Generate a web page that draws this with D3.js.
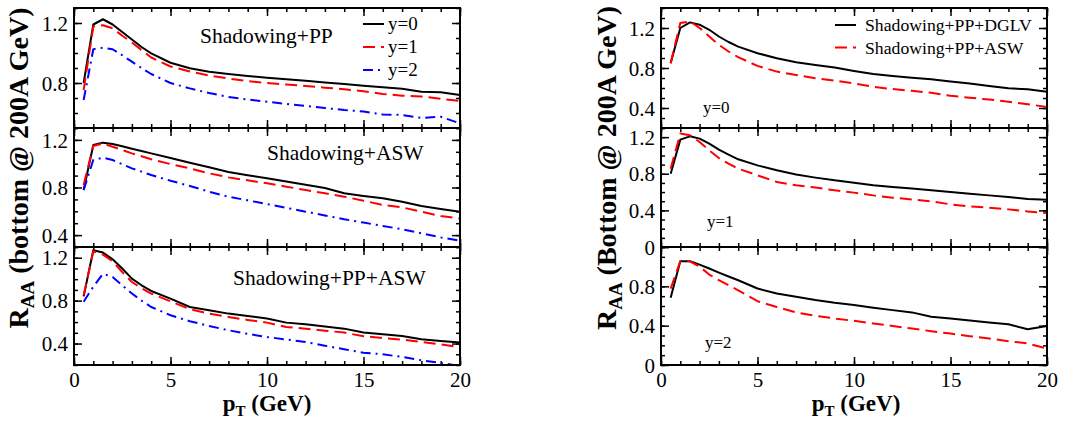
<!DOCTYPE html>
<html><head><meta charset="utf-8">
<script src="https://cdn.jsdelivr.net/npm/d3@7"></script>
<style>
body{margin:0;background:#fff}
svg{display:block}
text{font-family:"Liberation Serif","Times New Roman",serif;fill:#000}
</style>
</head><body>
<svg id="c" width="1078" height="421"></svg>
<script>
// ---------------- data ----------------
const pT = [0.5,1,1.5,2,2.5,3,3.5,4,5,6,7,8,9,10,11,12,13,14,15,16,17,18,19,20];
const xTickValues = [0,5,10,15,20];

// Left column: Shadowing+PP
const ppY0 = [0.80,1.19,1.225,1.19,1.14,1.09,1.04,0.998,0.935,0.898,0.875,0.86,0.847,0.835,0.825,0.815,0.804,0.793,0.782,0.771,0.762,0.742,0.738,0.72];
const ppY1 = [0.753,1.176,1.185,1.165,1.115,1.07,1.02,0.97,0.91,0.877,0.85,0.83,0.813,0.80,0.79,0.78,0.769,0.758,0.745,0.727,0.715,0.71,0.695,0.68];
const ppY2 = [0.687,1.025,1.035,1.025,0.985,0.942,0.9,0.86,0.8,0.764,0.733,0.707,0.69,0.675,0.66,0.647,0.633,0.62,0.61,0.59,0.587,0.567,0.575,0.531];
// Left column: Shadowing+ASW
const aswY0 = [0.779,1.157,1.177,1.166,1.146,1.126,1.107,1.087,1.048,1.008,0.97,0.93,0.903,0.877,0.85,0.823,0.796,0.751,0.729,0.709,0.681,0.645,0.62,0.597];
const aswY1 = [0.821,1.149,1.17,1.143,1.115,1.087,1.062,1.037,0.997,0.961,0.919,0.885,0.86,0.835,0.807,0.779,0.751,0.723,0.689,0.653,0.633,0.597,0.56,0.541];
const aswY2 = [0.779,1.031,1.05,1.031,0.996,0.961,0.933,0.905,0.857,0.813,0.765,0.723,0.692,0.661,0.629,0.597,0.565,0.533,0.505,0.477,0.449,0.415,0.381,0.353];
// Left column: Shadowing+PP+ASW
const ppaswY0 = [0.84,1.27,1.248,1.185,1.1,1.005,0.943,0.89,0.819,0.741,0.71,0.679,0.657,0.633,0.595,0.58,0.56,0.539,0.502,0.486,0.47,0.44,0.424,0.409];
const ppaswY1 = [0.85,1.26,1.229,1.167,1.067,0.974,0.915,0.866,0.794,0.72,0.679,0.648,0.62,0.595,0.554,0.539,0.52,0.502,0.468,0.452,0.437,0.415,0.393,0.366];
const ppaswY2 = [0.79,0.93,1.05,1.02,0.943,0.866,0.8,0.741,0.664,0.608,0.564,0.524,0.49,0.461,0.438,0.415,0.38,0.346,0.315,0.3,0.275,0.244,0.219,0.19];
// Right column: DGLV vs ASW at y=0,1,2
const dglvY0 = [0.848,1.2,1.256,1.233,1.182,1.115,1.06,1.014,0.948,0.898,0.858,0.831,0.804,0.77,0.74,0.72,0.703,0.687,0.666,0.646,0.62,0.597,0.587,0.563];
const aswRY0 = [0.848,1.25,1.266,1.2,1.115,1.032,0.965,0.908,0.821,0.764,0.73,0.697,0.673,0.646,0.612,0.589,0.572,0.552,0.522,0.502,0.485,0.462,0.438,0.41];
const dglvY1 = [0.8,1.173,1.209,1.184,1.13,1.064,1.009,0.958,0.892,0.838,0.791,0.758,0.728,0.703,0.674,0.655,0.638,0.619,0.601,0.583,0.564,0.546,0.524,0.517];
const aswRY1 = [0.856,1.239,1.22,1.147,1.056,0.972,0.91,0.856,0.783,0.71,0.674,0.649,0.619,0.594,0.564,0.539,0.52,0.499,0.466,0.444,0.43,0.411,0.389,0.371];
const dglvY2 = [0.683,1.055,1.055,1.021,0.981,0.94,0.9,0.862,0.778,0.727,0.693,0.66,0.632,0.609,0.582,0.558,0.535,0.49,0.473,0.452,0.432,0.415,0.364,0.398];
const aswRY2 = [0.777,1.055,1.055,1.0,0.92,0.862,0.81,0.76,0.649,0.59,0.535,0.5,0.473,0.449,0.422,0.397,0.371,0.344,0.32,0.293,0.27,0.242,0.219,0.168];

const leftLegend = ["y=0","y=1","y=2"];
const rightLegend = ["Shadowing+PP+DGLV","Shadowing+PP+ASW"];
const leftTitles = ["Shadowing+PP","Shadowing+ASW","Shadowing+PP+ASW"];
const rightTitles = ["y=0","y=1","y=2"];

// ---------------- styles ----------------
const S = {
  black:{color:"#000",dash:null},
  red:{color:"#ff0000",dash:"12,6"},
  blue:{color:"#0000ff",dash:"10,5,2,5"}
};

const svg = d3.select("#c");
let clipId = 0;

function panel(cfg){
  const x = d3.scaleLinear().domain([0,20]).range([cfg.x0,cfg.x1]);
  const y = d3.scaleLinear().domain(cfg.domain).range([cfg.y1,cfg.y0]);
  const g = svg.append("g");
  const id = "clip"+(clipId++);
  svg.append("clipPath").attr("id",id).append("rect")
    .attr("x",cfg.x0).attr("y",cfg.y0).attr("width",cfg.x1-cfg.x0).attr("height",cfg.y1-cfg.y0);

  const majorY = d3.range(0,1.41,0.4).map(v=>+v.toFixed(1)).filter(v=>v>=cfg.domain[0]-1e-9&&v<=cfg.domain[1]+1e-9);
  const minorY = d3.range(0,1.41,0.1).map(v=>+v.toFixed(1)).filter(v=>v>=cfg.domain[0]-1e-9&&v<=cfg.domain[1]+1e-9);
  const minorX = d3.range(0,21,1);

  const styleAxis = a => { a.select(".domain").remove(); a.selectAll("line").attr("stroke","#000").attr("stroke-width",1.5); };

  // minor ticks
  g.append("g").attr("transform",`translate(${cfg.x0},0)`).call(d3.axisLeft(y).tickValues(minorY).tickSize(-4).tickFormat("")).call(styleAxis);
  g.append("g").attr("transform",`translate(${cfg.x1},0)`).call(d3.axisRight(y).tickValues(minorY).tickSize(-4).tickFormat("")).call(styleAxis);
  g.append("g").attr("transform",`translate(0,${cfg.y0})`).call(d3.axisTop(x).tickValues(minorX).tickSize(-4).tickFormat("")).call(styleAxis);
  g.append("g").attr("transform",`translate(0,${cfg.y1})`).call(d3.axisBottom(x).tickValues(minorX).tickSize(-4).tickFormat("")).call(styleAxis);
  // major ticks
  const yl = g.append("g").attr("transform",`translate(${cfg.x0},0)`)
    .call(d3.axisLeft(y).tickValues(majorY).tickSize(-8).tickPadding(6)
      .tickFormat(v => cfg.yLabels.includes(v) ? (v===0?"0":d3.format(".1f")(v)) : ""))
    .call(styleAxis);
  yl.selectAll("text").attr("font-size",21).attr("dy","0.34em");
  g.append("g").attr("transform",`translate(${cfg.x1},0)`).call(d3.axisRight(y).tickValues(majorY).tickSize(-8).tickFormat("")).call(styleAxis);
  g.append("g").attr("transform",`translate(0,${cfg.y0})`).call(d3.axisTop(x).tickValues(xTickValues).tickSize(-8).tickFormat("")).call(styleAxis);
  const xb = g.append("g").attr("transform",`translate(0,${cfg.y1})`)
    .call(d3.axisBottom(x).tickValues(xTickValues).tickSize(-8).tickPadding(7).tickFormat(cfg.showX? d3.format("d") : ""))
    .call(styleAxis);
  xb.selectAll("text").attr("font-size",21);

  // series
  const line = d3.line().x((d,i)=>x(pT[i])).y(d=>y(d));
  cfg.series.forEach(s=>{
    g.append("path").datum(s.values).attr("clip-path",`url(#${id})`)
      .attr("d",line).attr("fill","none").attr("stroke",s.style.color)
      .attr("stroke-width",2).attr("stroke-dasharray",s.style.dash).attr("stroke-linejoin","round");
  });
  // frame
  g.append("rect").attr("x",cfg.x0).attr("y",cfg.y0).attr("width",cfg.x1-cfg.x0).attr("height",cfg.y1-cfg.y0)
    .attr("fill","none").attr("stroke","#000").attr("stroke-width",2);
  return {x,y,g};
}

// Left column
const LX0=74, LX1=460, RX0=661, RX1=1047;
const rows = [[8,128],[128,247],[247,365]];
panel({x0:LX0,x1:LX1,y0:rows[0][0],y1:rows[0][1],domain:[0.5,1.3],yLabels:[0.8,1.2],showX:false,
  series:[{values:ppY0,style:S.black},{values:ppY1,style:S.red},{values:ppY2,style:S.blue}]});
panel({x0:LX0,x1:LX1,y0:rows[1][0],y1:rows[1][1],domain:[0.3,1.3],yLabels:[0.4,0.8,1.2],showX:false,
  series:[{values:aswY0,style:S.black},{values:aswY1,style:S.red},{values:aswY2,style:S.blue}]});
panel({x0:LX0,x1:LX1,y0:rows[2][0],y1:rows[2][1],domain:[0.2,1.3],yLabels:[0.4,0.8,1.2],showX:true,
  series:[{values:ppaswY0,style:S.black},{values:ppaswY1,style:S.red},{values:ppaswY2,style:S.blue}]});
// Right column
panel({x0:RX0,x1:RX1,y0:rows[0][0],y1:rows[0][1],domain:[0.2,1.4],yLabels:[0.4,0.8,1.2],showX:false,
  series:[{values:dglvY0,style:S.black},{values:aswRY0,style:S.red}]});
panel({x0:RX0,x1:RX1,y0:rows[1][0],y1:rows[1][1],domain:[0,1.3],yLabels:[0,0.4,0.8,1.2],showX:false,
  series:[{values:dglvY1,style:S.black},{values:aswRY1,style:S.red}]});
panel({x0:RX0,x1:RX1,y0:rows[2][0],y1:rows[2][1],domain:[0,1.2],yLabels:[0,0.4,0.8],showX:true,
  series:[{values:dglvY2,style:S.black},{values:aswRY2,style:S.red}]});

// panel titles
[[200,43],[267,160],[233,285]].forEach((d,i)=>{
  svg.append("text").attr("x",d[0]).attr("y",d[1]).attr("font-size",21.5).text(leftTitles[i]);
});
[[703,113],[707,227],[705,348]].forEach((d,i)=>{
  svg.append("text").attr("x",d[0]).attr("y",d[1]).attr("font-size",17).text(rightTitles[i]);
});

// legends
const legL = [S.black,S.red,S.blue];
[24,47,70].forEach((yy,i)=>{
  svg.append("line").attr("x1",363).attr("x2",384).attr("y1",yy).attr("y2",yy)
    .attr("stroke",legL[i].color).attr("stroke-width",2).attr("stroke-dasharray",legL[i].dash);
  svg.append("text").attr("x",388).attr("y",yy+6).attr("font-size",19).text(leftLegend[i]);
});
const legR = [S.black,S.red];
[25,47.5].forEach((yy,i)=>{
  svg.append("line").attr("x1",835).attr("x2",856).attr("y1",yy).attr("y2",yy)
    .attr("stroke",legR[i].color).attr("stroke-width",2).attr("stroke-dasharray",legR[i].dash);
  svg.append("text").attr("x",865).attr("y",yy+6).attr("font-size",17.7).text(rightLegend[i]);
});

// axis titles
function xTitle(cx){
  const t = svg.append("text").attr("x",cx).attr("y",411).attr("text-anchor","middle")
    .attr("font-size",23).attr("font-weight","bold");
  t.append("tspan").text("p");
  t.append("tspan").attr("font-size",15).attr("dy",5).text("T");
  t.append("tspan").attr("dy",-5).text(" (GeV)");
}
xTitle(267); xTitle(856);

function yTitle(bx, cy, rest){
  const t = svg.append("text").attr("transform",`translate(${bx},${cy}) rotate(-90)`)
    .attr("text-anchor","middle").attr("font-size",28).attr("font-weight","bold");
  t.append("tspan").text("R");
  t.append("tspan").attr("font-size",19).attr("dy",6).text("AA");
  t.append("tspan").attr("dy",-6).text(rest);
}
yTitle(28,168," (bottom @ 200A GeV)");
yTitle(616,168," (Bottom @ 200A GeV)");
</script>
</body></html>
